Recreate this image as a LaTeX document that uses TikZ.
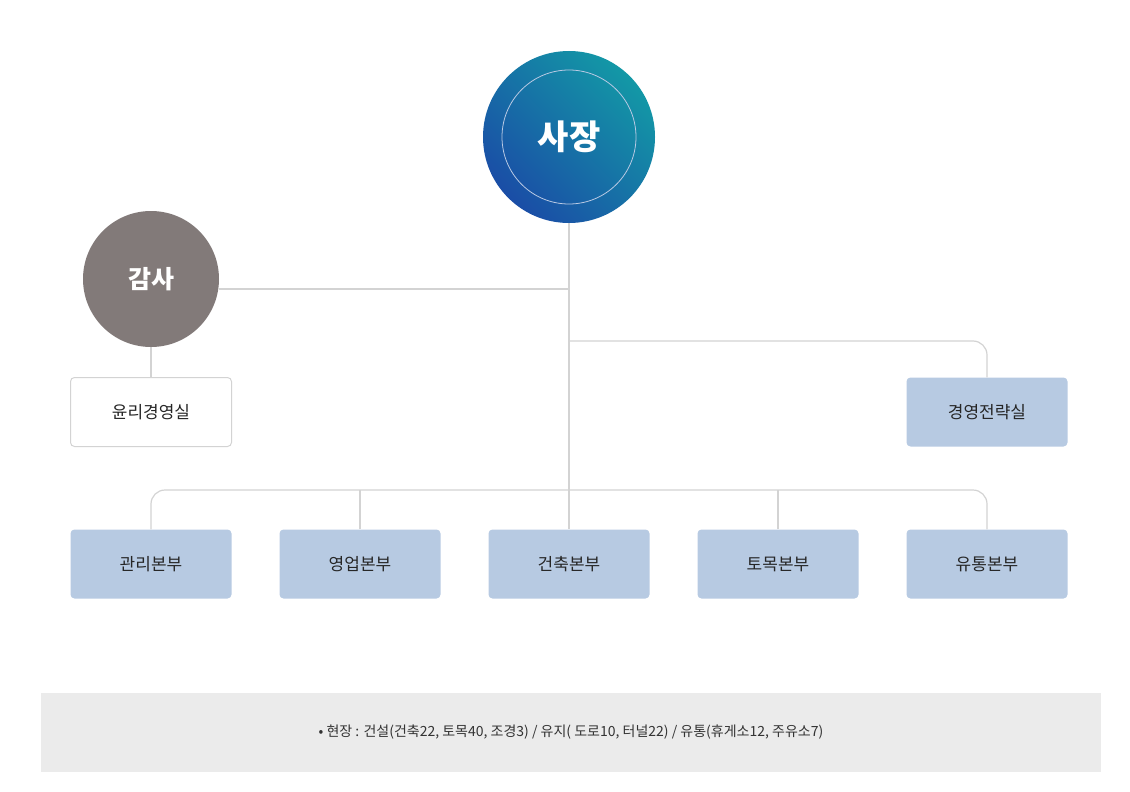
\documentclass[tikz,border=0pt]{standalone}
\usepackage{fontspec}
\setmainfont{Noto Sans CJK KR}
\definecolor{boxc}{HTML}{B7CAE2}
\definecolor{linec}{HTML}{D3D3D3}
\definecolor{grayc}{HTML}{827A79}
\definecolor{tealc}{HTML}{1398A6}
\definecolor{bluec}{HTML}{1A4DA6}
\definecolor{footc}{HTML}{EBEBEB}
\begin{document}
\begin{tikzpicture}[x=1pt,y=-1pt,
  conn/.style={draw=linec,line width=1.2pt,rounded corners=14pt},
  dept/.style={fill=boxc,rounded corners=4pt,minimum width=161pt,minimum height=69pt,font=\fontsize{17}{20}\selectfont,text=black!85,inner sep=0pt},
  wdept/.style={dept,fill=white,draw=linec,line width=1pt}]
\useasboundingbox (0,0) rectangle (1130,792);
\node[circle,minimum size=172pt,inner sep=0pt,left color=tealc,right color=bluec,shading angle=-45,text=white,font=\fontsize{34}{40}\selectfont\bfseries] (ceo) at (569,137) {사장};
\draw[white!70!bluec,line width=0.8pt] (569,137) circle (67pt);
\node[circle,minimum size=136pt,inner sep=0pt,fill=grayc,text=white,font=\fontsize{25}{30}\selectfont\bfseries] (audit) at (151,279) {감사};
\node[wdept] (ethic) at (151,412) {윤리경영실};
\node[dept] (strat) at (987,412) {경영전략실};
\node[dept] (b1) at (151,564) {관리본부};
\node[dept] (b2) at (360,564) {영업본부};
\node[dept] (b3) at (569,564) {건축본부};
\node[dept] (b4) at (778,564) {토목본부};
\node[dept] (b5) at (987,564) {유통본부};
\coordinate (hub) at (569,490);
\draw[conn] (ceo.south) -- (b3.north);
\draw[conn] (audit.east |- 0,289) -- (569,289);
\draw[conn] (audit.south) -- (ethic.north);
\draw[conn] (569,341) -| (strat.north);
\draw[conn] (b1.north) |- (hub) -| (b5.north);
\draw[conn] (b2.north) -- (b2.north |- hub);
\draw[conn] (b4.north) -- (b4.north |- hub);
\node[fill=footc,minimum width=1060pt,minimum height=79pt,inner sep=0pt] (foot) at (571,732.5) {};
\node[font=\fontsize{14}{17}\selectfont,text=black!80] (ft) at (foot.center) {• 현장 : 건설(건축22, 토목40, 조경3) / 유지( 도로10, 터널22) / 유통(휴게소12, 주유소7)};
\end{tikzpicture}
\end{document}
